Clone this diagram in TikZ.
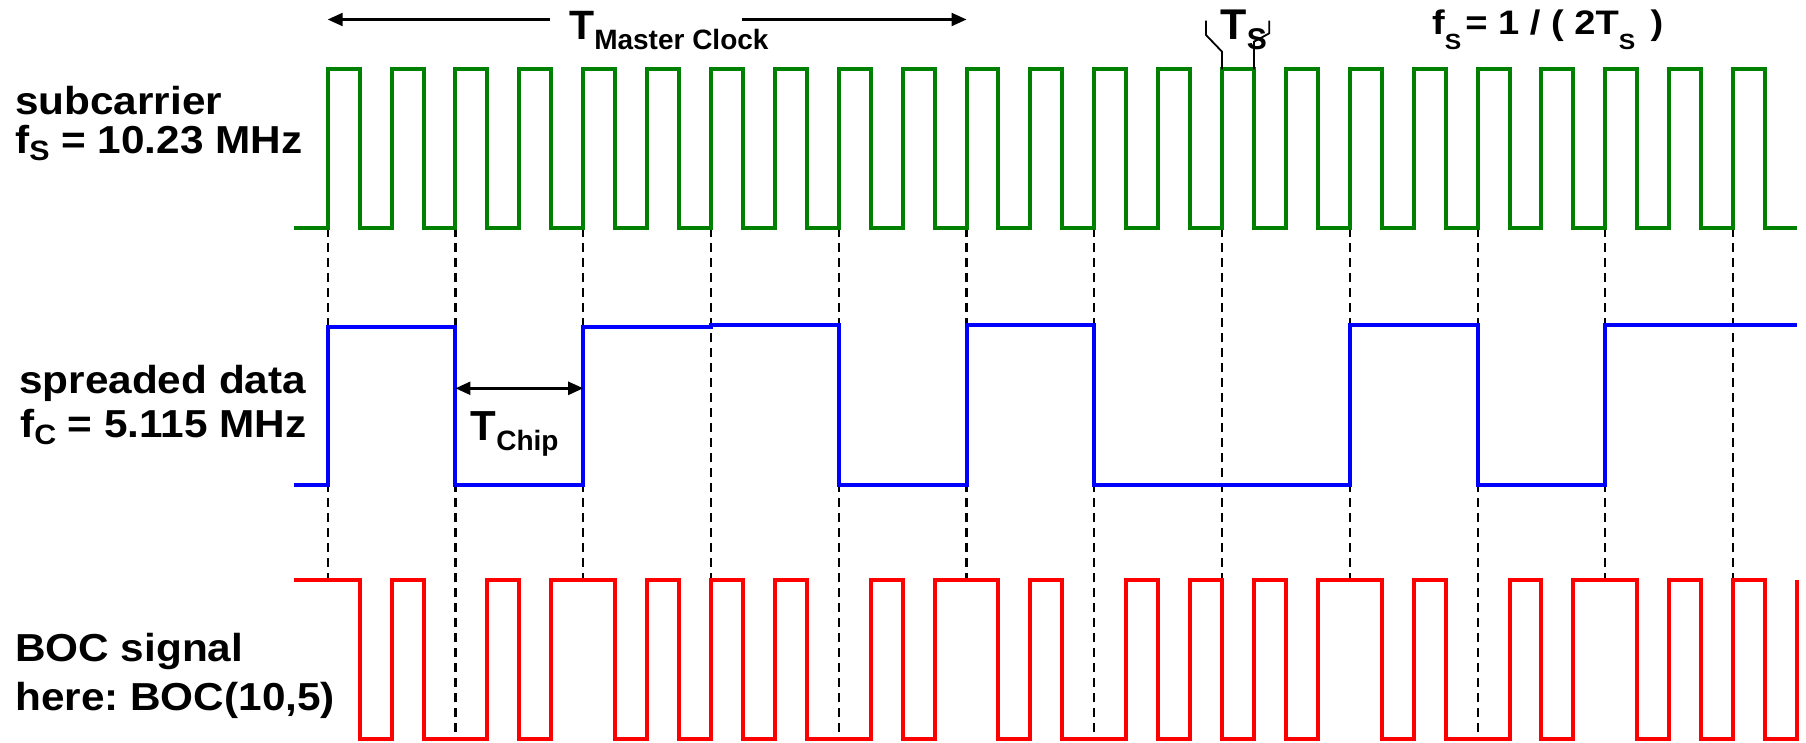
\documentclass[tikz,border=0pt]{standalone}
\usepackage{fontspec}
\setmainfont{Liberation Sans}
\newfontfamily\labelsf{Liberation Sans}[FakeStretch=1.085]
\newfontfamily\widesf{Liberation Sans}[FakeStretch=1.12]
\usetikzlibrary{arrows.meta}

\definecolor{subgreen}{RGB}{0,128,0}
\definecolor{chipblue}{RGB}{0,0,255}
\definecolor{bocred}{RGB}{255,0,0}

% lowered index: #1 = size, #2 = drop below baseline, #3 = text
\newcommand{\idx}[3]{\raisebox{-#2pt}{\fontsize{#1}{#1}\selectfont #3}}

% signal levels
\def\gH{69.3}\def\gL{228}
\def\bHa{327}\def\bHb{325}\def\bL{485}
\def\rH{579.5}\def\rL{739}

\begin{document}
\frenchspacing
\begin{tikzpicture}[x=1pt,y=-1pt,
  wave/.style={line width=4pt, line join=miter},
  guide/.style={line width=2.1pt, dash pattern=on 9pt off 6pt},
  tipped/.style={line width=2.2pt, -{Triangle[length=15pt,width=13pt]}},
  twotip/.style={line width=2.4pt, {Triangle[length=15pt,width=13pt]}-{Triangle[length=15pt,width=13pt]}},
  brk/.style={line width=1.8pt, line join=miter},
  lbl/.style={inner sep=0pt, anchor=base west,
    font=\labelsf\fontsize{39}{45}\selectfont\bfseries},
  sym/.style={inner sep=0pt, anchor=base west, font=\bfseries}]
\useasboundingbox (0,0) rectangle (1806,743);

% row labels
\node[lbl] (subA) at (15,115) {subcarrier};
\node[lbl] (subB) at (15,153.3) {f\idx{28}{7}{S} = 10.23 MHz};
\node[lbl] (datA) at (19,393) {spreaded data};
\node[lbl] (datB) at (20,437) {f\idx{28}{7}{C} = 5.115 MHz};
\node[lbl] (bocA) at (15,661.7) {BOC signal};
\node[lbl] (bocB) at (15,710) {here: BOC(10,5)};

% time axis: one unit = one subcarrier half period T_S
\begin{scope}[shift={(327.7,0)}, x=31.94pt]
  % chip boundaries
  \foreach \t/\e in {0/\rH,4/\rL,8/\rH,12/\rH,16/\rL,20/\rH,24/\rL,28/\rH,32/\rH,36/\rL,40/\rH,44/\rH}
    \draw[guide] (\t,\gL) -- (\t,\e);

  % subcarrier
  \draw[wave, subgreen] (-1.06,\gL)
    foreach \k in {0,...,22} { -- (2*\k,\gL) -- (2*\k,\gH) -- (2*\k+1,\gH) -- (2*\k+1,\gL) }
    -- (46,\gL);

  % spreading code chips
  \draw[wave, chipblue] (-1.06,\bL) -- (0,\bL) -- (0,\bHa) -- (4,\bHa) -- (4,\bL)
    -- (8,\bL) -- (8,\bHa) -- (12,\bHa) -- (12,\bHb) -- (16,\bHb) -- (16,\bL)
    -- (20,\bL) -- (20,\bHb) -- (24,\bHb) -- (24,\bL) -- (32,\bL) -- (32,\bHb)
    -- (36,\bHb) -- (36,\bL) -- (40,\bL) -- (40,\bHb) -- (46,\bHb);

  % BOC(10,5) = chips x subcarrier
  \draw[wave, bocred] (-1.06,\rH)
    foreach \a/\b in {1/2,3/5,6/7,9/10,11/12,13/14,15/17,18/19,21/22,23/25,
                      26/27,28/29,30/31,33/34,35/37,38/39,41/42,43/44,45/46}
      { -- (\a,\rH) -- (\a,\rL) -- (\b,\rL) -- (\b,\rH) };

  % anchor points for the annotations
  \coordinate (mcL) at (0,19.5);
  \coordinate (mcR) at (20,19.5);
  \coordinate (chL) at (4,388.3);
  \coordinate (chR) at (8,388.3);
  \coordinate (tsLd) at (28,\gH);
  \coordinate (tsLc) at (28,51.7);
  \coordinate (tsRd) at (29,\gH);
  \coordinate (tsRc) at (29,41.7);
\end{scope}

% master clock period
\node[sym, font=\bfseries\fontsize{41}{41}\selectfont] (tmc) at (569,39.3)
  {T\idx{28}{10.7}{Master Clock}};
\coordinate (mcA) at (550,19.5);
\coordinate (mcB) at (741.7,19.5);
\draw[tipped] (mcA) -- (mcL);
\draw[tipped] (mcB) -- (mcR);

% chip duration
\draw[twotip] (chL) -- (chR);
\node[sym, font=\bfseries\fontsize{42}{42}\selectfont] (tch) at (470.5,440)
  {T\idx{28}{10}{Chip}};

% subcarrier half period
\node[sym, font=\bfseries\fontsize{43}{43}\selectfont] (ts) at (1220.5,40)
  {T\idx{30}{10}{S}};
\coordinate (tsLa) at (1206,20.7);
\coordinate (tsLb) at (1206,35);
\coordinate (tsRa) at (1269.3,20.7);
\coordinate (tsRb) at (1269.3,33.3);
\draw[brk] (tsLa) -- (tsLb) -- (tsLc) -- (tsLd);
\draw[brk] (tsRa) -- (tsRb) -- (tsRc) -- (tsRd);

% subcarrier frequency
\node[sym, font=\widesf\bfseries\fontsize{34}{34}\selectfont] (fs) at (1432,35)
  {f\idx{22}{15}{S}\hspace{0.12em}= 1 / ( 2T\idx{22}{15}{S}\hspace{0.45em})};
\end{tikzpicture}
\end{document}
